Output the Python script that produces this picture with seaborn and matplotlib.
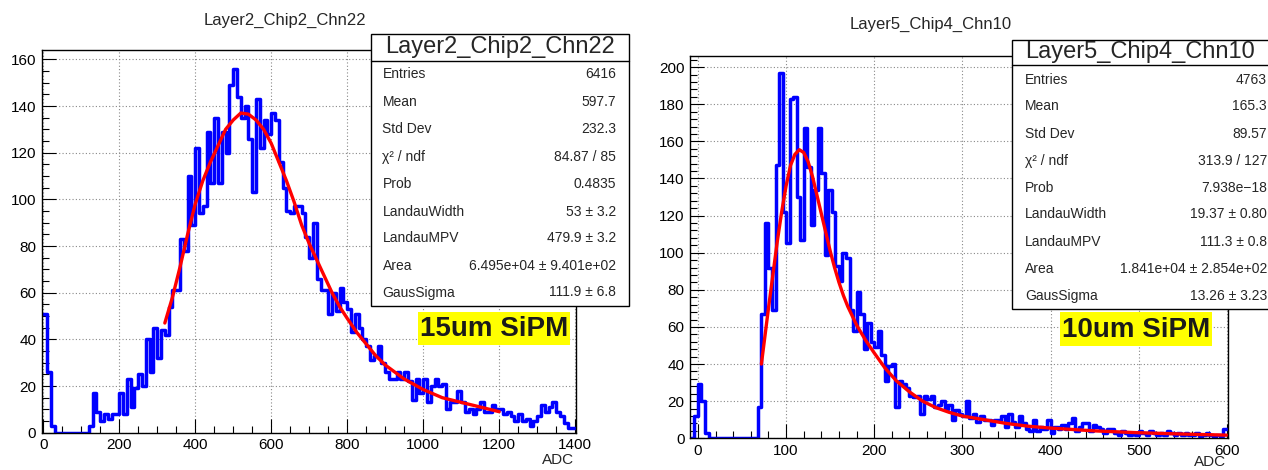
import matplotlib

matplotlib.use("Agg")
import matplotlib.pyplot as plt
import numpy as np
import pandas as pd
import seaborn as sns
from matplotlib.patches import Rectangle
from matplotlib.lines import Line2D
from matplotlib.ticker import AutoMinorLocator, MultipleLocator

FIG_W, FIG_H = 1268, 470

# ---- left channel: 15um SiPM, 10 ADC bins ----
LEFT_NAME = "Layer2_Chip2_Chn22"
LEFT_EDGES = np.arange(0, 1401, 10)
LEFT_COUNTS = [
    51, 26, 3, 0, 0, 0, 0, 0, 0, 0, 0, 0, 3, 17, 9, 5, 8, 6, 8, 8,
    17, 8, 23, 11, 19, 25, 20, 40, 26, 45, 32, 44, 42, 54, 61, 61, 83, 78, 110, 89,
    122, 94, 97, 129, 107, 135, 107, 129, 120, 149, 156, 144, 135, 140, 126, 103, 143, 122, 134, 128,
    137, 134, 116, 105, 95, 94, 97, 97, 94, 84, 75, 90, 66, 61, 61, 51, 60, 52, 62, 56,
    53, 43, 51, 45, 40, 37, 31, 33, 37, 30, 26, 23, 23, 26, 23, 26, 22, 14, 23, 17,
    23, 13, 20, 23, 20, 21, 10, 13, 13, 18, 13, 9, 10, 8, 10, 13, 9, 9, 12, 10,
    10, 8, 9, 7, 5, 8, 5, 6, 3, 5, 7, 12, 9, 11, 13, 9, 7, 4, 2, 2,
]
LEFT_FIT_X = [320, 340, 360, 380, 400, 420, 440, 460, 480, 500,
              520, 540, 560, 580, 600, 620, 640, 660, 680, 700,
              720, 740, 760, 780, 800, 825, 850, 875, 900, 950,
              1000, 1050, 1100, 1150, 1200]
LEFT_FIT_Y = [47, 58, 71, 85, 98, 108, 116, 123, 130, 134,
              137, 136.5, 134, 130, 124, 116, 108, 99, 89, 81,
              74, 67, 60, 54, 49, 43, 38, 33, 29, 23,
              18.5, 15, 13, 11, 9]
LEFT_STATS = [
    ("Entries", "6416"),
    ("Mean", "597.7"),
    ("Std Dev", "232.3"),
    ("χ² / ndf", "84.87 / 85"),
    ("Prob", "0.4835"),
    ("LandauWidth", "53 ± 3.2"),
    ("LandauMPV", "479.9 ± 3.2"),
    ("Area", "6.495e+04 ± 9.401e+02"),
    ("GausSigma", "111.9 ± 6.8"),
]

# ---- right channel: 10um SiPM, 4 ADC bins ----
RIGHT_NAME = "Layer5_Chip4_Chn10"
RIGHT_EDGES = np.arange(-8, 601, 4)
RIGHT_COUNTS = [
    0, 12, 29, 20, 3, 0, 0, 0, 0, 0, 0, 0, 0, 0, 0, 0, 0, 0, 0, 17,
    67, 116, 92, 69, 147, 197, 122, 105, 183, 184, 130, 107, 167, 146, 115, 134, 167, 143, 99, 134,
    122, 93, 85, 100, 97, 69, 58, 79, 67, 48, 62, 52, 49, 58, 45, 31, 39, 40, 17, 31,
    29, 27, 23, 22, 23, 13, 23, 21, 23, 17, 18, 20, 16, 18, 10, 15, 13, 12, 20, 11,
    13, 9, 12, 10, 10, 7, 10, 10, 12, 6, 13, 9, 6, 12, 8, 5, 4, 10, 4, 6,
    5, 10, 3, 6, 5, 7, 5, 8, 11, 4, 6, 8, 8, 4, 7, 6, 5, 3, 5, 5,
    3, 2, 4, 3, 2, 3, 2, 4, 3, 2, 4, 3, 2, 3, 2, 4, 3, 2, 3, 2,
    3, 2, 2, 3, 1, 2, 3, 2, 1, 2, 1, 5,
]
RIGHT_FIT_X = [72, 76, 80, 85, 90, 95, 100, 105, 110, 115,
               120, 125, 130, 135, 140, 145, 150, 155, 160, 165,
               170, 175, 180, 190, 200, 212, 225, 240, 255, 270,
               285, 300, 325, 350, 375, 400, 450, 500, 550, 600]
RIGHT_FIT_Y = [40, 55, 70, 88, 106, 122, 136, 147, 153, 155.5,
               154, 149, 141, 131, 121, 111, 101, 92, 84, 77,
               71, 66, 61, 53, 46, 38, 31, 25, 20, 16.5,
               14, 12, 10, 8, 6.5, 5.5, 4, 3, 2.3, 1.7]
RIGHT_STATS = [
    ("Entries", "4763"),
    ("Mean", "165.3"),
    ("Std Dev", "89.57"),
    ("χ² / ndf", "313.9 / 127"),
    ("Prob", "7.938e\u221218"),
    ("LandauWidth", "19.37 ± 0.80"),
    ("LandauMPV", "111.3 ± 0.8"),
    ("Area", "1.841e+04 ± 2.854e+02"),
    ("GausSigma", "13.26 ± 3.23"),
]


def fx(x):
    return x / FIG_W


def fy(y):
    return 1 - y / FIG_H


def setup_style():
    sns.set_theme(style="ticks")
    plt.rcParams["font.family"] = ["Liberation Sans", "DejaVu Sans"]
    plt.rcParams["axes.edgecolor"] = "black"
    plt.rcParams["axes.linewidth"] = 1.0
    plt.rcParams["xtick.color"] = "black"
    plt.rcParams["ytick.color"] = "black"


def draw_hist(fig, frame, edges, counts, fit_x, fit_y, xlim, ylim, xstep, xminor, ystep, yminor):
    left, top, right, bottom = frame
    ax = fig.add_axes([fx(left), fy(bottom), fx(right) - fx(left), fy(top) - fy(bottom)])
    centers = (edges[:-1] + edges[1:]) / 2
    df = pd.DataFrame({"adc": centers, "n": counts})
    sns.histplot(data=df, x="adc", weights="n", bins=edges.tolist(), element="step", fill=False,
                 color="#0000ff", linewidth=2.5, ax=ax)
    sns.lineplot(x=fit_x, y=fit_y, color="#ff0000", linewidth=2.4, ax=ax)
    ax.set_xlim(*xlim)
    ax.set_ylim(*ylim)
    ax.set_xlabel("")
    ax.set_ylabel("")
    ax.xaxis.set_major_locator(MultipleLocator(xstep))
    ax.xaxis.set_minor_locator(AutoMinorLocator(xminor))
    ax.yaxis.set_major_locator(MultipleLocator(ystep))
    ax.yaxis.set_minor_locator(AutoMinorLocator(yminor))
    ax.tick_params(which="both", direction="in", top=False, right=False, labelsize=11, width=0.8)
    ax.tick_params(which="major", length=10, pad=4)
    ax.tick_params(which="minor", length=5)
    ax.grid(True, which="major", linestyle=(0, (1, 2)), color="#888888", linewidth=0.8)
    for s in ax.spines.values():
        s.set_visible(True)
        s.set_color("black")
        s.set_linewidth(1.0)
    return ax


def draw_stats(fig, name, rows, box, sep_y, title_y, row_ys, label_x, value_x):
    left, top, right, bottom = box
    fig.add_artist(Rectangle((fx(left), fy(bottom)), fx(right) - fx(left), fy(top) - fy(bottom),
                             transform=fig.transFigure, facecolor="white", edgecolor="black",
                             linewidth=1.0, zorder=5))
    fig.add_artist(Line2D([fx(left), fx(right)], [fy(sep_y), fy(sep_y)],
                          transform=fig.transFigure, color="black", linewidth=1.0, zorder=6))
    fig.text(fx((left + min(right, FIG_W)) / 2), fy(title_y), name, ha="center", va="center",
             fontsize=17, zorder=7)
    for (label, value), y in zip(rows, row_ys):
        fig.text(fx(label_x), fy(y), label, ha="left", va="center", fontsize=10, zorder=7)
        fig.text(fx(value_x), fy(y), value, ha="right", va="center", fontsize=10, zorder=7)


def draw_tag(fig, text, box):
    left, top, right, bottom = box
    fig.add_artist(Rectangle((fx(left), fy(bottom)), fx(right) - fx(left), fy(top) - fy(bottom),
                             transform=fig.transFigure, facecolor="#ffff00", edgecolor="none",
                             zorder=5))
    fig.text(fx((left + right) / 2), fy((top + bottom) / 2 + 1), text, ha="center", va="center",
             fontsize=20, fontweight="bold", color="#1a1a1a", zorder=7)


def main():
    setup_style()
    fig = plt.figure(figsize=(FIG_W / 100, FIG_H / 100), dpi=100)

    draw_hist(fig, (41.7, 50, 576, 432.7), LEFT_EDGES, LEFT_COUNTS, LEFT_FIT_X, LEFT_FIT_Y,
              (-4, 1402), (0, 164), 200, 4, 20, 4)
    draw_hist(fig, (690, 56, 1227.7, 438.3), RIGHT_EDGES, RIGHT_COUNTS, RIGHT_FIT_X, RIGHT_FIT_Y,
              (-9, 601), (0, 206), 100, 5, 20, 5)

    fig.text(fx(285), fy(20), LEFT_NAME, ha="center", va="center", fontsize=12)
    fig.text(fx(931), fy(24), RIGHT_NAME, ha="center", va="center", fontsize=12)
    fig.text(fx(558), fy(460), "ADC", ha="center", va="center", fontsize=11)
    fig.text(fx(1210), fy(462), "ADC", ha="center", va="center", fontsize=11)

    draw_stats(fig, LEFT_NAME, LEFT_STATS, (370.7, 34, 629, 306), 61, 47,
               [74, 101.5, 129, 156.5, 184, 211.5, 238.5, 266, 292.5], 382.5, 616)
    draw_stats(fig, RIGHT_NAME, RIGHT_STATS, (1012, 39.5, 1275, 309), 64.5, 52,
               [79.5, 106.5, 134, 161, 187.5, 214.5, 241.5, 269, 296], 1025, 1267)

    draw_tag(fig, "15um SiPM", (418, 311.7, 570, 345))
    draw_tag(fig, "10um SiPM", (1060, 311.7, 1212, 346))

    fig.savefig("out.png", dpi=100)
    plt.close(fig)


if __name__ == "__main__":
    main()
